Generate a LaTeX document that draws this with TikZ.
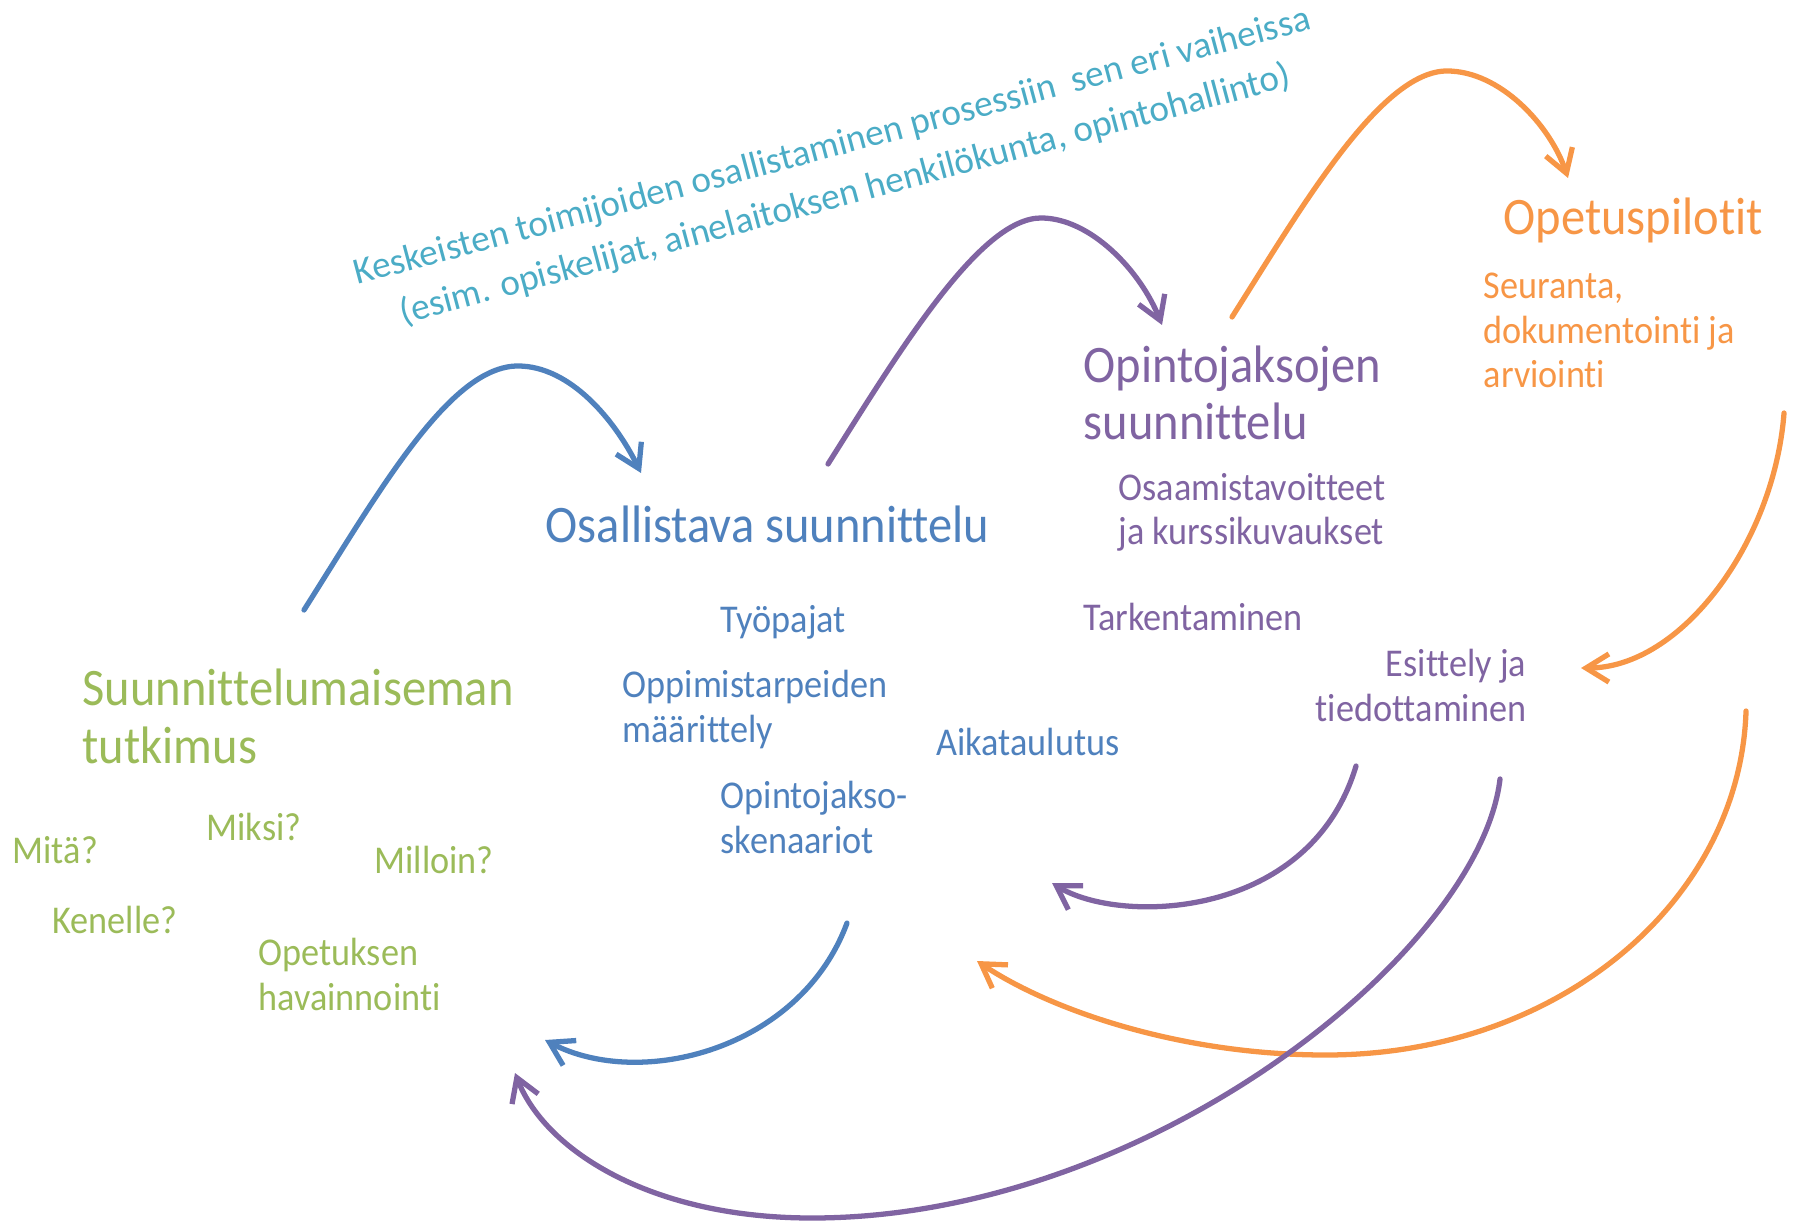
\documentclass[tikz,border=0pt]{standalone}
\usepackage{fontspec}
\setmainfont{Carlito}[FakeStretch=0.92, Ligatures=NoCommon]
\newfontfamily\calfont{Carlito}[Ligatures=NoCommon]
\usetikzlibrary{arrows.meta}
\definecolor{sininen}{HTML}{4F81BD}
\definecolor{violetti}{HTML}{8064A2}
\definecolor{oranssi}{HTML}{F79646}
\definecolor{vihrea}{HTML}{9BBB59}
\definecolor{turkoosi}{HTML}{4BACC6}
\tikzset{
  otsikko/.style={font=\fontsize{15}{16.5}\selectfont, inner sep=0pt, align=left, anchor=base west},
  pieni/.style={font=\fontsize{11.2}{12.8}\selectfont, inner sep=0pt, align=left, anchor=base west},
  kaari/.style={line width=1.5pt, ->},
}
\begin{document}
\begin{tikzpicture}[x=0.1mm, y=-0.1mm, >={Straight Barb[length=6.5pt,width=8pt]}, line join=round, line cap=round]
\useasboundingbox (0,0) rectangle (1798,1224);
% Suunnittelumaiseman tutkimus (monirivisen solmun base = viimeinen rivi)
\node[otsikko, vihrea] (tutkimus) at (82,763) {Suunnittelumaiseman\\tutkimus};
\node[pieni, vihrea] (mita) at (12,863) {Mitä?};
\node[pieni, vihrea] (miksi) at (206,840) {Miksi?};
\node[pieni, vihrea] (milloin) at (374,873) {Milloin?};
\node[pieni, vihrea] (kenelle) at (52,933) {Kenelle?};
\node[pieni, vihrea] (havainnointi) at (258,1010) {Opetuksen\\havainnointi};
% Osallistava suunnittelu
\node[otsikko, sininen] (osall) at (545,543) {Osallistava suunnittelu};
\node[pieni, sininen] (tyopajat) at (720,632) {Työpajat};
\node[pieni, sininen] (tarpeet) at (622,742) {Oppimistarpeiden\\määrittely};
\node[pieni, sininen] (aikataulu) at (936,755) {Aikataulutus};
\node[pieni, sininen] (skenaariot) at (720,853) {Opintojakso-\\skenaariot};
% Opintojaksojen suunnittelu
\node[otsikko, violetti] (opjs) at (1083,440) {Opintojaksojen\\suunnittelu};
\node[pieni, violetti] (tavoitteet) at (1118,545) {Osaamistavoitteet\\ja kurssikuvaukset};
\node[pieni, violetti] (tarkent) at (1083,630) {Tarkentaminen};
\node[pieni, violetti, align=right, anchor=base east] (esittely) at (1527,721) {Esittely ja\\tiedottaminen};
% Opetuspilotit
\node[otsikko, oranssi] (pilotit) at (1503,235) {Opetuspilotit};
\node[pieni, oranssi] (seuranta) at (1483,388) {Seuranta,\\dokumentointi ja\\arviointi};
% vino teksti
\node[turkoosi, rotate=15, anchor=base, align=center, inner sep=0pt, font=\calfont\fontsize{10.6}{14.2}\selectfont] (toimijat) at (848,205)
  {Keskeisten toimijoiden osallistaminen prosessiin\ \ sen eri vaiheissa\\(esim. opiskelijat, ainelaitoksen henkilökunta, opintohallinto)};
% kaarien päät
\coordinate (b1a) at (304,610); \coordinate (b1t) at (518,366); \coordinate (b1b) at (641,473);
\coordinate (v1a) at (828,464); \coordinate (v1t) at (1041,218); \coordinate (v1b) at (1162,325);
\coordinate (o1a) at (1232,317); \coordinate (o1t) at (1447,71); \coordinate (o1b) at (1568,178);
\coordinate (o2a) at (1784,413); \coordinate (o2b) at (1581,668);
\coordinate (v2a) at (1356,766); \coordinate (v2b) at (1052,883);
\coordinate (b2a) at (847,923); \coordinate (b2b) at (545,1040);
\coordinate (o3a) at (1746,711); \coordinate (o3m) at (1326,1055); \coordinate (o3b) at (977,961);
\coordinate (v3a) at (1500,779); \coordinate (v3m) at (812,1218); \coordinate (v3b) at (515,1073);
% kaaret
\draw[kaari, sininen] (b1a) .. controls +(76,-120) and +(-68,0) .. (b1t)
  .. controls +(52,0) and +(-26,-53) .. (b1b);
\draw[kaari, violetti] (v1a) .. controls +(72,-114) and +(-61,0) .. (v1t)
  .. controls +(49,0) and +(-22,-55) .. (v1b);
\draw[kaari, oranssi] (o1a) .. controls +(68,-107) and +(-67,0) .. (o1t)
  .. controls +(53,0) and +(-18,-53) .. (o1b);
\draw[kaari, oranssi] (o2a) .. controls +(-10,130) and +(100,0) .. (o2b);
\draw[kaari, violetti] (v2a) .. controls +(-46,154) and +(68,42) .. (v2b);
\draw[kaari, sininen] (b2a) .. controls +(-47,127) and +(95,50) .. (b2b);
\draw[kaari, oranssi] (o3a) .. controls +(-6,189) and +(234,0) .. (o3m)
  .. controls +(-146,0) and +(73,49) .. (o3b);
\draw[kaari, violetti] (v3a) .. controls +(-20,171) and +(338,0) .. (v3m)
  .. controls +(-162,0) and +(30,77) .. (v3b);
\end{tikzpicture}
\end{document}
